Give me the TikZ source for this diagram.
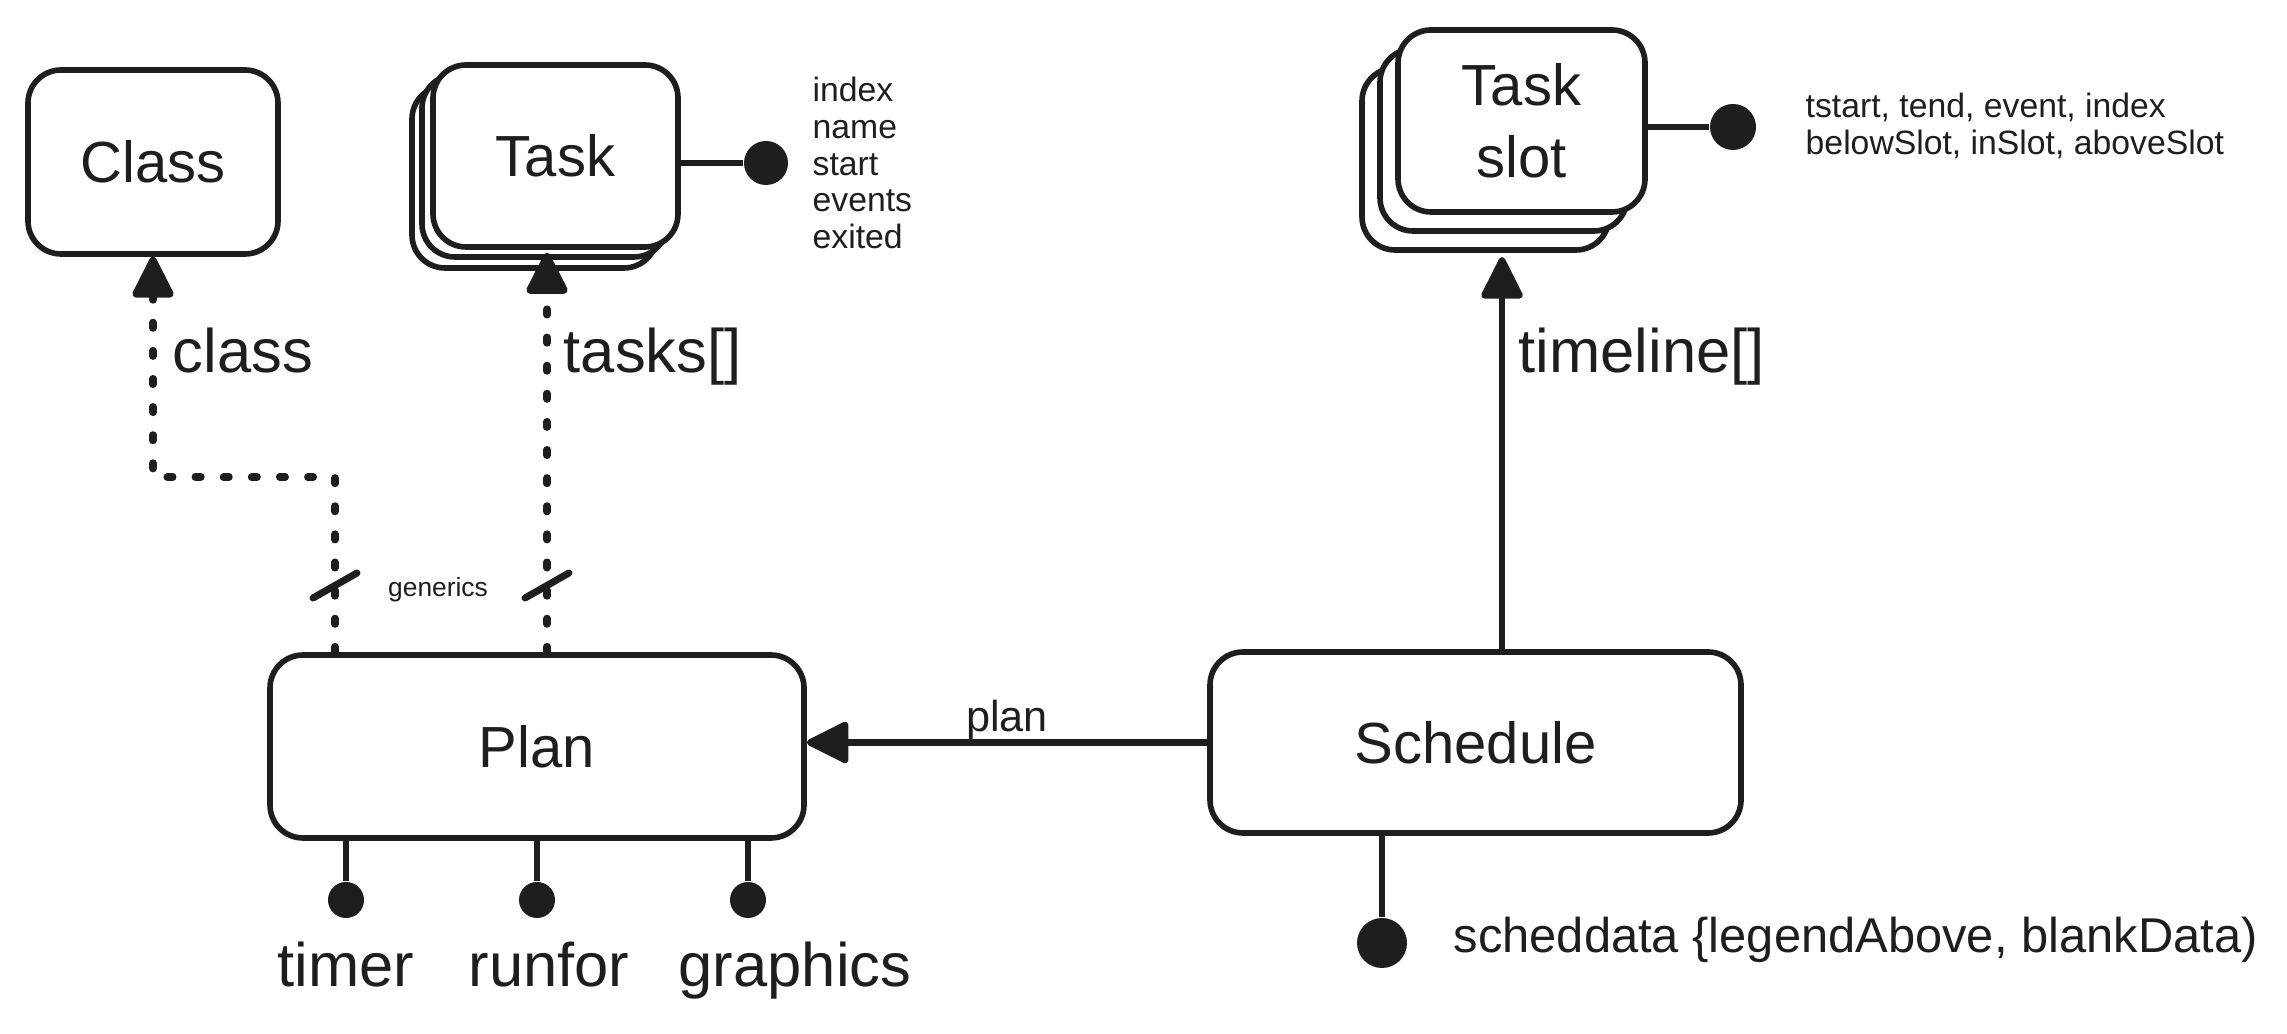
\documentclass[tikz,border=0pt]{standalone}
\usepackage{fontspec}
\setmainfont{Liberation Sans}
\usetikzlibrary{arrows.meta}
\definecolor{ink}{HTML}{1E1E1E}
\begin{document}
\begin{tikzpicture}[color=ink]
  \tikzstyle{box}=[draw,line width=1.6pt,fill=white,rounded corners=0.33cm,align=center,inner sep=0pt,font=\fontsize{16.5}{20.5}\selectfont]
  \tikzstyle{knob}=[circle,fill,inner sep=0pt]
  \tikzstyle{stem}=[line width=1.8pt]
  \tikzstyle{ref}=[line width=1.8pt,-{Triangle[length=13pt,width=12.5pt,round]}]
  \tikzstyle{generic}=[ref,line width=2.1pt,line cap=round,dash pattern=on 1.6pt off 6.4pt]
  \tikzstyle{lbl}=[font=\fontsize{17.5}{21}\selectfont,inner sep=0pt]
  \tikzstyle{attr}=[font=\fontsize{9.6}{10.5}\selectfont,align=left,anchor=west,inner sep=0pt]
  \useasboundingbox (0,0) rectangle (22.87,10.34);
  \node[box,minimum width=2.5cm,minimum height=1.84cm] (class) at (1.53,8.72) {Class};
  \node[box,minimum width=2.45cm,minimum height=1.82cm] (taskC) at (5.345,8.57) {};
  \node[box,minimum width=2.45cm,minimum height=1.82cm] (taskB) at (5.445,8.68) {};
  \node[box,minimum width=2.45cm,minimum height=1.82cm] (task) at (5.555,8.78) {Task};
  \node[box,minimum width=2.47cm,minimum height=1.82cm] (slotC) at (14.855,8.75) {};
  \node[box,minimum width=2.47cm,minimum height=1.82cm] (slotB) at (15.035,8.94) {};
  \node[box,minimum width=2.47cm,minimum height=1.82cm] (slot) at (15.215,9.13) {Task\\slot};
  \node[box,minimum width=5.34cm,minimum height=1.83cm] (plan) at (5.37,2.875) {Plan};
  \node[box,minimum width=5.31cm,minimum height=1.81cm] (schedule) at (14.755,2.915) {Schedule};
  \node[knob,minimum size=0.44cm] (ktask) at (7.66,8.71) {};
  \node[attr] (taskfields) at (8.12,8.71) {index\\name\\start\\events\\exited};
  \node[knob,minimum size=0.46cm] (kslot) at (17.33,9.07) {};
  \node[attr] (slotfields) at (18.05,9.08) {tstart, tend, event, index\\belowSlot, inSlot, aboveSlot};
  \node[knob,minimum size=0.36cm] (ktimer) at (3.46,1.34) {};
  \node[knob,minimum size=0.36cm] (krun) at (5.37,1.34) {};
  \node[knob,minimum size=0.36cm] (kgfx) at (7.48,1.34) {};
  \node[lbl,anchor=base] (ltimer) at (3.46,0.47) {timer};
  \node[lbl,anchor=base] (lrun) at (5.49,0.47) {runfor};
  \node[lbl,anchor=base] (lgfx) at (7.95,0.47) {graphics};
  \node[knob,minimum size=0.5cm] (kdata) at (13.82,0.91) {};
  \node[anchor=base west,inner sep=0pt,font=\fontsize{13.9}{17}\selectfont] (ldata) at (14.53,0.81) {scheddata \{legendAbove, blankData)};
  \coordinate (tl) at (15.02,7.77);
  \coordinate (tk) at (5.47,7.81);
  \coordinate (ck) at (3.35,5.57);
  \coordinate (g1) at (3.35,4.49);
  \coordinate (g2) at (5.47,4.49);
  \draw[stem] (task.east |- ktask) -- (ktask);
  \draw[stem] (slot.east |- kslot) -- (kslot);
  \foreach \k in {ktimer,krun,kgfx}
    \draw[stem] (plan.south -| \k) -- (\k);
  \draw[stem] (schedule.south -| kdata) -- (kdata);
  \draw[ref] (schedule.west) -- (schedule.west -| plan.east) node[midway,anchor=base,yshift=3.1pt,inner sep=0pt,font=\fontsize{12.3}{14}\selectfont] {plan};
  \draw[ref] (schedule.north -| tl) -- (tl);
  \draw[generic] (plan.north -| tk) -- (tk);
  \draw[generic] (plan.north -| ck) -- (ck) -| (class.south);
  \foreach \g in {g1,g2}
    \draw[stem,line width=2pt,line cap=round] ([shift={(-0.22,-0.13)}]\g) -- ([shift={(0.22,0.12)}]\g);
  \node[lbl,anchor=base west] (lclass) at (1.72,6.61) {class};
  \node[lbl,anchor=base west] (ltasks) at (5.63,6.61) {tasks[]};
  \node[lbl,anchor=base west] (ltimeline) at (15.18,6.61) {timeline[]};
  \node[font=\fontsize{7.5}{9}\selectfont,anchor=base,inner sep=0pt] (gen) at (4.38,4.37) {generics};
\end{tikzpicture}
\end{document}
